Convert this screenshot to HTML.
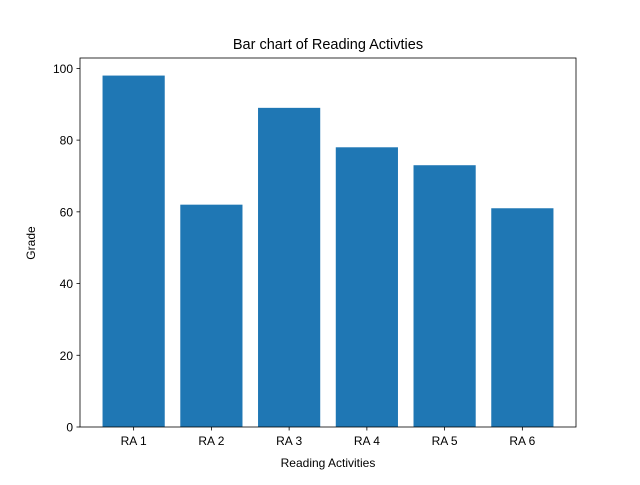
<!DOCTYPE html>
<html><head><meta charset="utf-8"><style>
body{margin:0;background:#fff}
svg text{font-family:"Liberation Sans","DejaVu Sans",sans-serif;fill:#000}
</style></head><body>
<svg id="chart" width="640" height="480" xmlns="http://www.w3.org/2000/svg">
<rect width="640" height="480" fill="#fff"/>
<text x="328" y="49" font-size="14.5" text-anchor="middle">Bar chart of Reading Activties</text>
<text x="328" y="467" font-size="12" text-anchor="middle">Reading Activities</text>
<text x="35" y="243" font-size="12" text-anchor="middle" transform="rotate(-90 35 243)">Grade</text>
<g id="bars"></g><g id="xticks"></g><g id="yticks"></g>
<rect x="80" y="58" width="496" height="369" fill="none" stroke="#000" stroke-width="0.8"/>
</svg>
<script>
const categories=["RA 1","RA 2","RA 3","RA 4","RA 5","RA 6"];
const grades=[98,62,89,78,73,61];
const yTicks=[0,20,40,60,80,100];
const L=80,R=576,T=58,B=427;
const xMin=-0.69,xMax=categories.length-1+0.69;
const yMax=Math.max(...grades)*1.05;
const xs=v=>L+(v-xMin)/(xMax-xMin)*(R-L);
const ys=v=>B-v/yMax*(B-T);
const NS="http://www.w3.org/2000/svg";
function mk(tag,attrs,parent){const e=document.createElementNS(NS,tag);for(const k in attrs)e.setAttribute(k,attrs[k]);parent.appendChild(e);return e;}
const gb=document.getElementById('bars'),gx=document.getElementById('xticks'),gy=document.getElementById('yticks');
grades.forEach((v,i)=>{
  const x0=xs(i-0.4),x1=xs(i+0.4);
  const r=mk('rect',{x:x0,y:ys(v),width:x1-x0,height:ys(0)-ys(v),fill:'#1f77b4'},gb);
  
  
  const t=mk('line',{x1:xs(i),x2:xs(i),y1:B,y2:B+3.5,stroke:'#000','stroke-width':0.8},gx);
  
  
  const l=mk('text',{x:xs(i),y:B+18,'font-size':12,'text-anchor':'middle'},gx);
  l.textContent=categories[i];
  
  
});
yTicks.forEach(v=>{
  const t=mk('line',{x1:L-3.5,x2:L,y1:ys(v),y2:ys(v),stroke:'#000','stroke-width':0.8},gy);
  
  
  const l=mk('text',{x:L-7,y:ys(v)+4.5,'font-size':12,'text-anchor':'end'},gy);
  l.textContent=v;
  
  
});
</script>
</body></html>
